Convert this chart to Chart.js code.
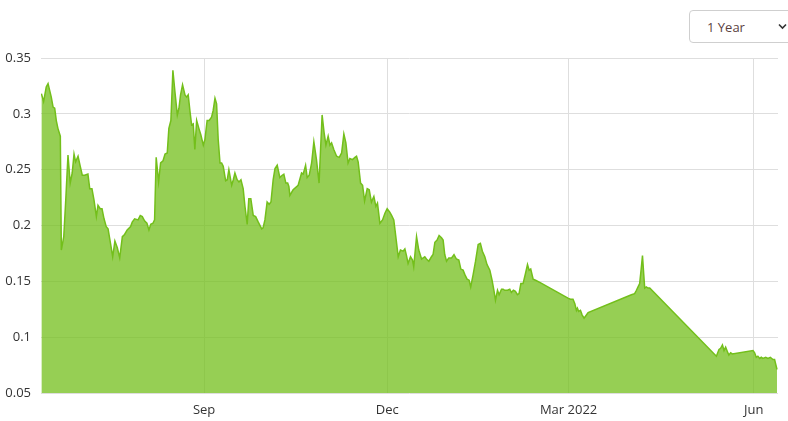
<!DOCTYPE html>
<html>
<head>
<meta charset="utf-8">
<script src="https://cdn.jsdelivr.net/npm/chart.js@4.4.0/dist/chart.umd.min.js"></script>
<style>
  html, body { margin: 0; padding: 0; background: #fff; overflow: hidden; }
  #wrap { position: absolute; left: 0; top: 0; width: 788px; height: 421px; }
  .range {
    position: absolute; left: 689px; top: 10px; width: 112px; height: 33px;
    box-sizing: border-box; border: 1px solid #cfcfcf; border-radius: 4px; background: #fff;
  }
  .range select {
    -webkit-appearance: none; appearance: none; border: 0; background: transparent;
    font: 13px "Open Sans", sans-serif; color: #5b3f3f; padding: 0 0 0 17px;
    height: 31px; width: 100%; outline: none;
  }
  .range svg { position: absolute; left: 88px; top: 12px; }
</style>
</head>
<body>
<div id="wrap"><canvas id="priceChart" width="788" height="421"></canvas></div>
<div class="range">
  <select><option>1 Year</option><option>6 Months</option><option>3 Months</option></select>
  <svg width="9" height="7" viewBox="0 0 9 7"><path d="M1 1.5 L4.5 5 L8 1.5" fill="none" stroke="#333" stroke-width="1.6"/></svg>
</div>
<script>
// day 0 = 2021-06-12
const startDate = "2021-06-12";
const tickDates = ["2021-09-01", "2021-12-01", "2022-03-01", "2022-06-01"];
const tickLabels = ["Sep", "Dec", "Mar 2022", "Jun"];

const days = [
  0.2,1.3,2.6,3.5,4.3,5.1,6.0,6.8,7.6,8.4,
  9.6,10.1,11.3,12.3,13.4,14.5,15.5,16.4,17.2,18.4,
  19.5,20.5,21.7,23.3,24.2,25.3,26.3,27.5,28.3,29.4,
  30.3,31.3,32.4,33.3,34.6,35.6,36.7,37.9,39.1,40.4,
  41.5,42.8,44.5,45.3,46.5,48.2,49.3,50.3,51.5,52.6,
  53.6,54.5,55.6,56.4,57.2,58.4,59.4,60.6,61.6,62.7,
  63.5,64.5,65.5,66.5,67.7,68.5,69.3,70.3,71.5,72.3,
  73.1,74.0,74.8,75.6,76.4,77.3,78.4,79.4,80.6,81.4,
  82.5,83.5,84.7,85.5,86.4,87.2,88.0,88.9,89.7,90.5,
  91.7,92.5,93.3,94.7,95.5,96.3,97.4,98.3,99.3,100.4,
  101.3,102.4,103.2,104.2,105.4,106.6,107.9,109.6,110.3,111.2,
  112.3,113.3,114.2,115.3,116.2,117.3,118.6,119.8,120.6,121.6,
  122.5,123.1,123.6,125.2,127.7,129.4,130.2,131.4,132.2,133.2,
  134.4,135.5,136.8,138.1,139.6,140.6,141.5,142.6,143.5,144.3,
  145.4,146.8,148.1,149.3,150.4,151.4,152.5,153.4,154.7,155.9,
  156.7,157.5,158.7,159.7,160.7,162.0,163.0,164.1,165.3,166.3,
  167.1,168.3,169.6,170.8,171.9,173.2,174.1,175.2,176.2,177.4,
  178.5,179.8,180.7,181.5,182.3,183.5,184.5,185.1,186.5,187.6,
  189.0,189.8,190.6,191.4,192.6,193.9,194.7,195.6,196.7,197.7,
  198.9,199.7,200.5,201.4,202.5,203.9,205.1,206.3,207.5,208.5,
  209.6,210.5,211.6,212.6,213.4,214.6,215.8,217.1,218.2,219.2,
  220.4,221.5,222.9,224.0,225.0,225.7,226.7,227.5,228.7,229.5,
  230.3,231.7,232.8,233.6,234.6,235.6,236.6,237.4,238.3,239.4,
  240.6,241.6,242.4,243.2,244.4,245.6,247.7,261.7,262.9,264.2,
  265.1,265.9,266.4,267.0,267.9,268.7,269.7,270.5,271.7,293.2,
  294.8,295.7,296.5,297.3,298.0,298.7,299.3,299.8,300.6,301.4,
  302.3,335.4,336.7,337.5,338.4,339.2,340.0,340.9,341.6,342.5,
  343.3,353.6,354.4,355.2,356.0,356.9,357.7,358.5,359.9,361.0,
  362.2,363.5,364.3,365.5
];

const prices = [
  0.318,0.311,0.324,0.327,0.321,0.315,0.306,0.305,0.294,0.287,
  0.280,0.178,0.190,0.223,0.263,0.238,0.247,0.264,0.257,0.262,
  0.253,0.245,0.245,0.246,0.233,0.233,0.223,0.208,0.218,0.215,
  0.215,0.206,0.199,0.197,0.183,0.172,0.186,0.180,0.171,0.190,
  0.192,0.196,0.199,0.203,0.206,0.205,0.209,0.208,0.204,0.202,
  0.196,0.201,0.202,0.205,0.261,0.239,0.256,0.258,0.264,0.265,
  0.287,0.294,0.339,0.320,0.299,0.305,0.317,0.326,0.317,0.315,
  0.317,0.302,0.290,0.291,0.268,0.294,0.287,0.281,0.272,0.277,
  0.294,0.294,0.297,0.303,0.314,0.309,0.277,0.256,0.256,0.253,
  0.240,0.241,0.250,0.236,0.241,0.247,0.241,0.239,0.241,0.233,
  0.217,0.201,0.224,0.224,0.209,0.208,0.203,0.197,0.198,0.205,
  0.221,0.219,0.221,0.241,0.251,0.254,0.243,0.245,0.246,0.238,
  0.238,0.235,0.227,0.232,0.236,0.247,0.246,0.254,0.243,0.245,
  0.256,0.275,0.259,0.238,0.299,0.283,0.272,0.280,0.272,0.274,
  0.268,0.262,0.261,0.265,0.282,0.274,0.256,0.260,0.259,0.261,
  0.262,0.257,0.238,0.236,0.222,0.233,0.232,0.221,0.226,0.217,
  0.220,0.202,0.205,0.211,0.215,0.212,0.209,0.205,0.190,0.172,
  0.178,0.177,0.179,0.173,0.166,0.172,0.169,0.163,0.190,0.178,
  0.170,0.171,0.172,0.170,0.168,0.172,0.174,0.185,0.187,0.191,
  0.189,0.187,0.174,0.168,0.171,0.171,0.174,0.170,0.169,0.161,
  0.160,0.156,0.152,0.151,0.145,0.156,0.168,0.183,0.184,0.177,
  0.172,0.165,0.160,0.151,0.141,0.133,0.142,0.138,0.143,0.143,
  0.142,0.142,0.143,0.140,0.142,0.141,0.138,0.139,0.148,0.148,
  0.157,0.165,0.160,0.161,0.152,0.151,0.149,0.135,0.134,0.134,
  0.130,0.124,0.126,0.123,0.124,0.120,0.117,0.119,0.122,0.138,
  0.139,0.142,0.145,0.148,0.160,0.173,0.157,0.144,0.145,0.144,
  0.144,0.083,0.089,0.090,0.093,0.088,0.091,0.087,0.084,0.086,
  0.085,0.088,0.086,0.082,0.083,0.081,0.082,0.081,0.082,0.081,
  0.082,0.080,0.080,0.071
];

const DAY = 86400000;
const dayOf = s => (Date.parse(s) - Date.parse(startDate)) / DAY;
const tickDays = tickDates.map(dayOf);

const tickFont = { family: "'Open Sans', sans-serif", size: 13 };

new Chart(document.getElementById("priceChart"), {
  type: "line",
  data: {
    datasets: [{
      data: days.map((d, i) => ({ x: d, y: prices[i] })),
      borderColor: "rgb(115,191,27)",
      backgroundColor: "rgba(115,191,27,0.75)",
      borderWidth: 1.5,
      pointRadius: 0,
      tension: 0,
      fill: "start"
    }]
  },
  options: {
    responsive: false,
    animation: false,
    devicePixelRatio: 1,
    layout: { padding: { top: 58, right: 10, left: 0, bottom: 0 } },
    plugins: { legend: { display: false }, tooltip: { enabled: false } },
    scales: {
      x: {
        type: "linear",
        min: 0,
        max: 366,
        afterBuildTicks: s => { s.ticks = tickDays.map(v => ({ value: v })); },
        afterFit: s => { s.height = 28; },
        grid: { color: "#dedede", drawTicks: false },
        border: { display: false },
        ticks: {
          autoSkip: false, maxRotation: 0, padding: 9,
          color: "#333", font: tickFont,
          callback: (v, i) => tickLabels[i]
        }
      },
      y: {
        min: 0.05,
        max: 0.35,
        afterFit: s => { s.width = 41; },
        grid: { color: "#dedede", drawTicks: false },
        border: { display: false },
        ticks: {
          stepSize: 0.05, padding: 10,
          color: "#333", font: tickFont,
          callback: v => String(+v.toFixed(2))
        }
      }
    }
  }
});
</script>
</body>
</html>
